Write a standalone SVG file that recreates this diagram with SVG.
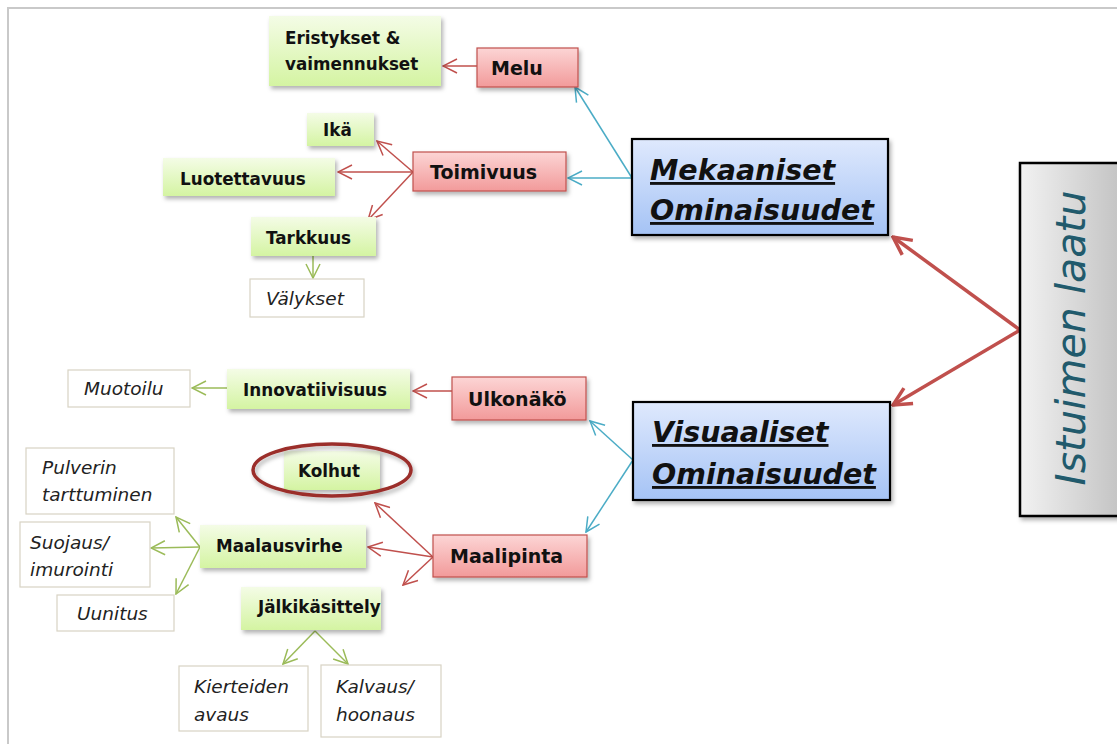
<svg xmlns="http://www.w3.org/2000/svg" width="1117" height="744" viewBox="0 0 1117 744">
<style>
.g{fill:url(#gg);filter:url(#sh)}
.r{fill:url(#rg);stroke:#c0504d;stroke-width:1.2;filter:url(#sh)}
.b{fill:url(#bg);stroke:#000;stroke-width:2.2;filter:url(#sh)}
.w{fill:#fff;stroke:#d8d3c4;stroke-width:1.2}
.t{font-family:"DejaVu Sans",Verdana,sans-serif;font-weight:bold;font-size:16.8px;fill:#111}
.tr{font-family:"DejaVu Sans",Verdana,sans-serif;font-weight:bold;font-size:19px;fill:#111}
.ti{font-family:"DejaVu Sans",Verdana,sans-serif;font-style:italic;font-size:18.5px;fill:#222}
.tb{font-family:"DejaVu Sans",Verdana,sans-serif;font-weight:bold;font-style:italic;font-size:28.5px;fill:#111;text-decoration:underline}
.cr{stroke:#c0504d;stroke-width:1.5;fill:none;marker-end:url(#ar)}
.cb{stroke:#4bacc6;stroke-width:1.5;fill:none;marker-end:url(#ab)}
.cg{stroke:#9bbb59;stroke-width:1.5;fill:none;marker-end:url(#ag)}
.ck{stroke:#c0504d;stroke-width:3.5;fill:none;marker-end:url(#ak)}
</style>
<defs>
<linearGradient id="gg" x1="0" y1="0" x2="0" y2="1"><stop offset="0" stop-color="#f4fce6"/><stop offset="1" stop-color="#d4f4a2"/></linearGradient>
<linearGradient id="rg" x1="0" y1="0" x2="0" y2="1"><stop offset="0" stop-color="#fcd5d5"/><stop offset="1" stop-color="#f29a9a"/></linearGradient>
<linearGradient id="bg" x1="0" y1="0" x2="0" y2="1"><stop offset="0" stop-color="#dfe9fd"/><stop offset="1" stop-color="#a5c3f5"/></linearGradient>
<linearGradient id="sg" x1="0" y1="0" x2="1" y2="0"><stop offset="0" stop-color="#f2f2f2"/><stop offset="1" stop-color="#bfbfbf"/></linearGradient>
<filter id="sh" x="-10%" y="-10%" width="130%" height="140%"><feDropShadow dx="2" dy="3" stdDeviation="2" flood-color="#000" flood-opacity="0.3"/></filter>
<marker id="ar" markerUnits="userSpaceOnUse" markerWidth="16" markerHeight="16" viewBox="0 0 16 16" refX="15" refY="8" orient="auto"><path d="M1,1 L15,8 L1,15" fill="none" stroke="#c0504d" stroke-width="1.5"/></marker>
<marker id="ab" markerUnits="userSpaceOnUse" markerWidth="16" markerHeight="16" viewBox="0 0 16 16" refX="15" refY="8" orient="auto"><path d="M1,1 L15,8 L1,15" fill="none" stroke="#4bacc6" stroke-width="1.5"/></marker>
<marker id="ag" markerUnits="userSpaceOnUse" markerWidth="16" markerHeight="16" viewBox="0 0 16 16" refX="15" refY="8" orient="auto"><path d="M1,1 L15,8 L1,15" fill="none" stroke="#9bbb59" stroke-width="1.5"/></marker>
<marker id="ak" markerUnits="userSpaceOnUse" markerWidth="22" markerHeight="22" viewBox="0 0 22 22" refX="20" refY="11" orient="auto"><path d="M2,2 L20,11 L2,20" fill="none" stroke="#c0504d" stroke-width="3.5"/></marker>
</defs>
<rect width="1117" height="744" fill="#fff"/>
<path d="M8,760 L8,8 L1130,8" fill="none" stroke="#c9c9c9" stroke-width="2"/>

<g id="connectors">
<line class="cr" x1="477" y1="66" x2="443" y2="66"/>
<line class="cb" x1="632" y1="178" x2="575" y2="87"/>
<line class="cb" x1="632" y1="178" x2="568" y2="178"/>
<line class="cr" x1="413" y1="172" x2="377" y2="141"/>
<line class="cr" x1="413" y1="172" x2="338" y2="172"/>
<line class="cr" x1="413" y1="172" x2="368" y2="220"/>
<line class="cg" x1="313" y1="256" x2="313" y2="278"/>
<line class="ck" x1="1020" y1="330" x2="893" y2="237"/>
<line class="ck" x1="1020" y1="330" x2="893" y2="405"/>
<line class="cb" x1="633" y1="460" x2="590" y2="421"/>
<line class="cb" x1="633" y1="460" x2="586" y2="532"/>
<line class="cr" x1="452" y1="391" x2="413" y2="391"/>
<line class="cg" x1="227" y1="388" x2="192" y2="388"/>
<line class="cr" x1="433" y1="557" x2="375" y2="503"/>
<line class="cr" x1="433" y1="557" x2="368" y2="547"/>
<line class="cr" x1="433" y1="557" x2="403" y2="585"/>
<line class="cg" x1="200" y1="547" x2="176" y2="517"/>
<line class="cg" x1="200" y1="547" x2="151" y2="548"/>
<line class="cg" x1="200" y1="547" x2="176" y2="594"/>
<line class="cg" x1="315" y1="631" x2="283" y2="664"/>
<line class="cg" x1="315" y1="631" x2="348" y2="664"/>
</g>

<g id="eristykset"><rect class="g" x="269" y="16" width="172" height="70"/><text class="t" x="285" y="44">Eristykset &amp;</text><text class="t" x="285" y="70">vaimennukset</text></g>
<g id="melu"><rect class="r" x="477" y="48" width="101" height="39"/><text class="tr" x="491" y="75">Melu</text></g>
<g id="ika"><rect class="g" x="307" y="113" width="67" height="33"/><text class="t" x="323" y="136">Ikä</text></g>
<g id="luotettavuus"><rect class="g" x="163" y="158" width="172" height="38"/><text class="t" x="180" y="185">Luotettavuus</text></g>
<g id="toimivuus"><rect class="r" x="413" y="152" width="153" height="39"/><text class="tr" x="430" y="179">Toimivuus</text></g>
<g id="tarkkuus"><rect class="g" x="251" y="217" width="125" height="39"/><text class="t" x="266" y="244">Tarkkuus</text></g>
<g id="valykset"><rect class="w" x="250" y="279" width="114" height="38"/><text class="ti" x="266" y="305">Välykset</text></g>
<g id="mekaaniset"><rect class="b" x="632" y="139" width="256" height="96"/><text class="tb" x="650" y="180">Mekaaniset</text><text class="tb" x="650" y="220">Ominaisuudet</text></g>
<g id="istuimen"><rect x="1020" y="163" width="110" height="353" fill="url(#sg)" stroke="#000" stroke-width="2.5" filter="url(#sh)"/><text x="1085" y="338" transform="rotate(-90 1085 338)" text-anchor="middle" font-family="DejaVu Sans, Verdana, sans-serif" font-style="italic" font-size="41" fill="#215a6c">Istuimen laatu</text></g>
<g id="visuaaliset"><rect class="b" x="633" y="402" width="257" height="98"/><text class="tb" x="652" y="442">Visuaaliset</text><text class="tb" x="652" y="484">Ominaisuudet</text></g>
<g id="muotoilu"><rect class="w" x="68" y="370" width="122" height="37"/><text class="ti" x="84" y="395">Muotoilu</text></g>
<g id="innovatiivisuus"><rect class="g" x="227" y="369" width="183" height="40"/><text class="t" x="243" y="396">Innovatiivisuus</text></g>
<g id="ulkonako"><rect class="r" x="452" y="377" width="134" height="43"/><text class="tr" x="468" y="406">Ulkonäkö</text></g>
<g id="kolhut"><rect class="g" x="284" y="451" width="96" height="39"/><text class="t" x="298" y="477">Kolhut</text><ellipse cx="332" cy="470" rx="79" ry="26" fill="none" stroke="#9b2d2a" stroke-width="3.5" filter="url(#sh)"/></g>
<g id="pulverin"><rect class="w" x="26" y="448" width="148" height="66"/><text class="ti" x="42" y="474">Pulverin</text><text class="ti" x="42" y="501">tarttuminen</text></g>
<g id="suojaus"><rect class="w" x="20" y="522" width="130" height="65"/><text class="ti" x="30" y="549">Suojaus/</text><text class="ti" x="30" y="576">imurointi</text></g>
<g id="uunitus"><rect class="w" x="57" y="595" width="117" height="36"/><text class="ti" x="77" y="620">Uunitus</text></g>
<g id="maalausvirhe"><rect class="g" x="200" y="525" width="166" height="43"/><text class="t" x="216" y="552">Maalausvirhe</text></g>
<g id="maalipinta"><rect class="r" x="433" y="535" width="154" height="42"/><text class="tr" x="450" y="563">Maalipinta</text></g>
<g id="jalkikasittely"><rect class="g" x="241" y="587" width="140" height="43"/><text class="t" x="258" y="613">Jälkikäsittely</text></g>
<g id="kierteiden"><rect class="w" x="179" y="666" width="129" height="65"/><text class="ti" x="194" y="693">Kierteiden</text><text class="ti" x="194" y="721">avaus</text></g>
<g id="kalvaus"><rect class="w" x="321" y="665" width="120" height="72"/><text class="ti" x="336" y="693">Kalvaus/</text><text class="ti" x="336" y="721">hoonaus</text></g>
</svg>
